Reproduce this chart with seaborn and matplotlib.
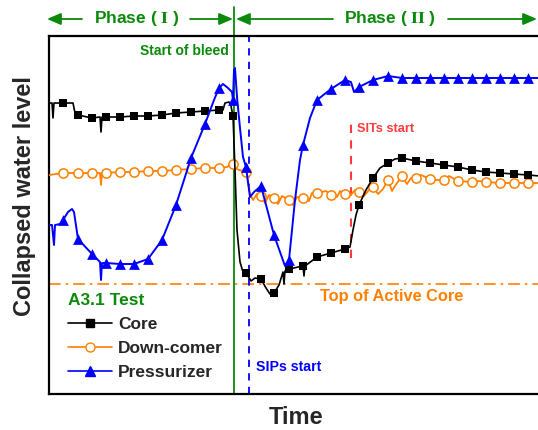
import numpy as np
import pandas as pd
import matplotlib
matplotlib.use("Agg")
import matplotlib.pyplot as plt
from matplotlib.lines import Line2D
import seaborn as sns

sns.set_style("white")
plt.rcParams["font.family"] = ["Liberation Sans", "DejaVu Sans"]
plt.rcParams["font.weight"] = "bold"
plt.rcParams["mathtext.fontset"] = "stix"

# ---- data (time in arbitrary units, collapsed level in arbitrary units) ----
# instants at which the symbols are plotted
sample_t = [14, 29, 43, 57, 71, 85, 99, 113, 127, 142, 156, 170, 184, 197, 212,
            225, 240, 254, 268, 282, 296, 310, 324, 339, 353, 367, 381, 395,
            409, 423, 437, 451, 465, 479]

core_mark = [291, 279, 276, 277, 277, 278, 278, 279, 281, 282, 283, 284, 278,
             121, 115, 101, 125, 128, 137, 141, 145, 189, 216, 231, 236, 233,
             231, 229, 227, 224, 222, 221, 220, 219]
down_mark = [221, 221, 221, 221, 222, 222, 223, 223, 224, 225, 226, 226, 230,
             222, 198, 196, 194, 196, 201, 199, 200, 202, 207, 214, 218, 216,
             215, 214, 213, 212, 212, 211, 211, 211]
prz_mark = [174, 155, 140, 131, 130, 130, 135, 154, 189, 236, 270, 306, 294,
            227, 208, 159, 134, 249, 294, 305, 314, 307, 314, 318, 316, 316,
            316, 316, 316, 316, 316, 316, 316, 316]

# recorded values between the symbols
core_extra_t = [0, 3, 4, 5, 24, 26, 51, 52, 53, 174, 176, 180, 182, 186, 188,
                191, 194, 202, 206, 217, 221, 230, 234, 235, 236, 255, 256,
                301, 304, 307, 317, 331, 346, 491]
core_extra = [291, 291, 276, 291, 291, 281, 277, 262, 277, 284, 291, 292, 288,
              224, 164, 132, 122, 113, 116, 106, 100, 109, 122, 110, 123, 118,
              128, 147, 164, 179, 204, 226, 235, 218]

down_extra_t = [0, 51, 52, 53, 178, 181, 186, 190, 199, 201, 204, 208, 216,
                220, 229, 233, 244, 248, 260, 263, 277, 288, 291, 300, 306,
                315, 320, 329, 334, 343, 346, 358, 362, 372, 386, 400, 430,
                491]
down_extra = [219, 221, 209, 221, 227, 229, 226, 224, 212, 200, 194, 200, 191,
              199, 190, 198, 189, 197, 193, 201, 203, 197, 203, 197, 204, 198,
              204, 200, 205, 203, 208, 210, 216, 219, 214, 218, 213, 211]

prz_extra_t = [0, 3, 5, 6, 11, 19, 23, 25, 51, 52, 53, 165, 174, 179, 183,
               185, 186, 188, 191, 194, 201, 205, 236, 246, 251, 261, 302, 305,
               491]
prz_extra = [169, 169, 149, 169, 170, 182, 185, 182, 132, 114, 131, 294, 310,
             306, 302, 324, 326, 297, 266, 237, 197, 202, 128, 194, 234, 276,
             312, 302, 316]

t_bleed = 185          # start of bleed
t_sip = 200            # SIPs start
t_sit = 302            # SITs start
sit_marker_span = (136, 274)
tac_level = 110        # top of active core
tick_t = [238]

GREEN = "#0a8a0a"
ORANGE = "#ff8000"
BLUE = "#0000ff"
RED = "#ff3b3b"


def trace(mark, extra_t, extra):
    df = pd.DataFrame({"t": list(sample_t) + list(extra_t),
                       "level": list(mark) + list(extra)})
    return df.sort_values("t", kind="stable").reset_index(drop=True)


W, H = 538, 430
fig = plt.figure(figsize=(W / 100, H / 100), dpi=100)
ax = fig.add_axes([49 / W, 1 - 394 / H, 511 / W, 358 / H])
ax.set_xlim(0, 511)
ax.set_ylim(0, 358)

# reference lines
ax.axhline(tac_level, color=ORANGE, lw=1.2, ls=(0, (7, 3, 1.5, 3)), zorder=1)
ax.axvline(t_bleed, ymin=0, ymax=(394 - 7) / 358, color=GREEN, lw=1.3,
           clip_on=False, zorder=2)
ax.axvline(t_sip, color=BLUE, lw=1.3, ls=(0, (4, 3.5)), zorder=2)
ax.vlines(t_sit, *sit_marker_span, color=RED, lw=1.5, ls=(0, (4, 3.5)), zorder=2)

# series
down_df = trace(down_mark, down_extra_t, down_extra)
core_df = trace(core_mark, core_extra_t, core_extra)
prz_df = trace(prz_mark, prz_extra_t, prz_extra)

sns.lineplot(data=down_df, x="t", y="level", sort=False, estimator=None,
             color=ORANGE, lw=1.3, ax=ax, zorder=3)
sns.scatterplot(x=sample_t, y=down_mark, marker="o", s=44, color="white",
                edgecolor=ORANGE, linewidth=1.1, ax=ax, zorder=4)

sns.lineplot(data=core_df, x="t", y="level", sort=False, estimator=None,
             color="black", lw=1.2, ax=ax, zorder=5)
sns.scatterplot(x=sample_t, y=core_mark, marker="s", s=36, color="black",
                edgecolor="black", linewidth=0, ax=ax, zorder=6)

sns.lineplot(data=prz_df, x="t", y="level", sort=False, estimator=None,
             color=BLUE, lw=1.4, ax=ax, zorder=7)
sns.scatterplot(x=sample_t, y=prz_mark, marker="^", s=60, color=BLUE,
                edgecolor=BLUE, linewidth=0, ax=ax, zorder=8)

# axes styling
for side in ("left", "bottom", "top"):
    ax.spines[side].set_linewidth(1.6)
    ax.spines[side].set_color("black")
ax.spines["right"].set_visible(False)
ax.set_xticks(tick_t)
ax.set_xticklabels([])
ax.set_yticks([])
ax.tick_params(axis="x", direction="in", length=4, width=1.2)
ax.set_xlabel("")
ax.set_ylabel("")

# annotations
ax.text(180, 343, "Start of bleed", color=GREEN, fontsize=10, ha="right",
        va="center", fontweight="bold")
ax.text(308, 265, "SITs start", color=RED, fontsize=9.2, ha="left",
        va="center", fontweight="bold")
ax.text(207, 27, "SIPs start", color=BLUE, fontsize=10.2, ha="left",
        va="center", fontweight="bold")
ax.text(271, 97, "Top of Active Core", color=ORANGE, fontsize=11.8, ha="left",
        va="center", fontweight="bold")

handles = [
    Line2D([], [], color="black", lw=1.2, marker="s", ms=6),
    Line2D([], [], color=ORANGE, lw=1.2, marker="o", ms=6.5,
           markerfacecolor="white", markeredgecolor=ORANGE),
    Line2D([], [], color=BLUE, lw=1.2, marker="^", ms=7.5),
]
leg = ax.legend(handles, ["Core", "Down-comer", "Pressurizer"],
                title="A3.1 Test", loc="upper left",
                bbox_to_anchor=(16 / 511, (394 - 290) / 358), frameon=False,
                prop={"size": 12.5, "weight": "bold"},
                title_fontproperties={"size": 12.5, "weight": "bold"},
                alignment="left", handlelength=2.5, handletextpad=0.35,
                labelspacing=0.5, borderpad=0.2, borderaxespad=0)
leg.get_title().set_color(GREEN)

# axis titles
fig.text(296 / W, 1 - 418 / H, "Time", fontsize=17, fontweight="bold",
         ha="center", va="center")
fig.text(25 / W, 1 - 196 / H, "Collapsed water level", fontsize=17,
         fontweight="bold", ha="center", va="center", rotation=90)

# phase header with arrows
def fx(px):
    return px / W


def fy(py):
    return 1 - py / H


arrow_kw = dict(arrowstyle="-|>,head_length=0.7,head_width=0.3", color=GREEN,
                lw=1.3, shrinkA=0, shrinkB=0)
for x0, x1 in [(82, 47), (190, 233), (333, 236), (448, 537)]:
    fig.add_artist(matplotlib.patches.FancyArrowPatch(
        (fx(x0), fy(19)), (fx(x1), fy(19)), transform=fig.transFigure,
        mutation_scale=12, **arrow_kw))
fig.text(fx(136.5), fy(19), r"Phase ( $\mathbf{I}$ )", color=GREEN,
         fontsize=12.5, fontweight="bold", ha="center", va="center")
fig.text(fx(389.5), fy(19), r"Phase ( $\mathbf{II}$ )", color=GREEN,
         fontsize=12.5, fontweight="bold", ha="center", va="center")

fig.savefig("out.png", dpi=100)
